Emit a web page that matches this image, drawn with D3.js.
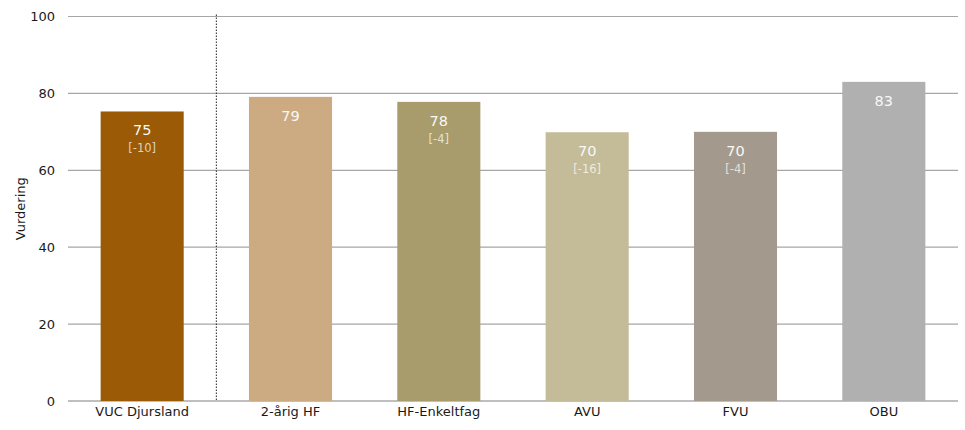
<!DOCTYPE html>
<html><head><meta charset="utf-8">
<script src="https://cdn.jsdelivr.net/npm/d3@7"></script>
<style>body{margin:0;background:#fff}svg{display:block}</style>
</head><body>
<svg id="c" width="965" height="430"></svg>
<script>
const categories = ["VUC Djursland","2-årig HF","HF-Enkeltfag","AVU","FVU","OBU"];
const values = [75.3, 79.1, 77.8, 69.9, 70.0, 83.0];
const labels = ["75","79","78","70","70","83"];
const diffs = ["[-10]","","[-4]","[-16]","[-4]",""];
const colors = ["#9B5A06","#CCAB83","#A89C6C","#C4BC98","#A39A8D","#B0B0B0"];
const yTicks = [0,20,40,60,80,100];
const yTitle = "Vurdering";

const svg = d3.select("#c");
const m = {l:68, r:7, t:16.5, b:29};
const W = 965, H = 430;
const x = d3.scaleBand().domain(categories).range([m.l, W-m.r]).paddingInner(0.44).paddingOuter(0.22);
const y = d3.scaleLinear().domain([0,100]).range([H-m.b, m.t]);
const font = "'DejaVu Sans', Verdana, sans-serif";

// gridlines
svg.append("g").selectAll("line").data(yTicks).join("line")
  .attr("x1", m.l).attr("x2", W-m.r)
  .attr("y1", d=>y(d)).attr("y2", d=>y(d))
  .attr("stroke", d=> d===0 ? "#808080" : "#a6a6a6").attr("stroke-width", 1.2);

// y axis labels
const ya = svg.append("g").attr("transform",`translate(${m.l},0)`)
  .call(d3.axisLeft(y).tickValues(yTicks).tickSize(0).tickPadding(13));
ya.select(".domain").remove();
ya.selectAll("text").attr("font-family", font).attr("font-size", 13).attr("fill","#1a1a1a");

// bars
svg.append("g").selectAll("rect").data(categories).join("rect")
  .attr("x", d=>x(d)).attr("width", x.bandwidth())
  .attr("y", (d,i)=>y(values[i])).attr("height", (d,i)=>y(0)-y(values[i]))
  .attr("fill", (d,i)=>colors[i]);

// separator dotted line
const sepX = (x(categories[0]) + x.bandwidth() + x(categories[1]))/2;
svg.append("line").attr("x1", sepX).attr("x2", sepX).attr("y1", m.t-2).attr("y2", y(0))
  .attr("stroke","#222").attr("stroke-width",1).attr("stroke-dasharray","1.5,1.5");

// value labels
const lab = svg.append("g");
categories.forEach((c,i)=>{
  const cx = x(c)+x.bandwidth()/2;
  lab.append("text").attr("x", cx).attr("y", y(values[i])+24)
    .attr("text-anchor","middle").attr("font-family",font).attr("font-size",14.5)
    .attr("fill","#f8f8f8").text(labels[i]);
  if (diffs[i]) lab.append("text").attr("x", cx).attr("y", y(values[i])+41)
    .attr("text-anchor","middle").attr("font-family",font).attr("font-size",11.5)
    .attr("fill","#ffffff").attr("fill-opacity",0.72).text(diffs[i]);
});

// x axis labels
const xa = svg.append("g").attr("transform",`translate(0,${y(0)})`)
  .call(d3.axisBottom(x).tickSize(0).tickPadding(6));
xa.select(".domain").remove();
xa.selectAll("text").attr("font-family", font).attr("font-size", 13).attr("fill","#1a1a1a");

// y title
svg.append("text").attr("transform",`translate(25,${(y(0)+y(100))/2}) rotate(-90)`)
  .attr("text-anchor","middle").attr("font-family",font).attr("font-size",13)
  .attr("fill","#1a1a1a").text(yTitle);
</script>
</body></html>
